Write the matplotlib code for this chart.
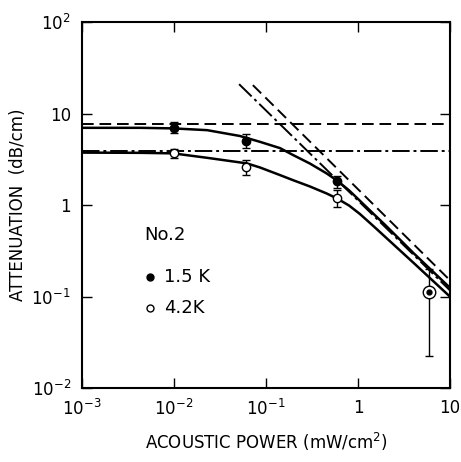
import numpy as np
from matplotlib import pyplot as plt

plt.rcParams['font.family'] = ['DejaVu Sans']
plt.rcParams['mathtext.fontset'] = 'dejavusans'

# measured points, 1.5 K (filled) and 4.2 K (open)
p15 = [0.01, 0.06, 0.59]
a15 = [7.0, 5.0, 1.85]
lo15 = [6.1, 4.2, 1.55]
hi15 = [8.1, 6.0, 2.1]

p42 = [0.01, 0.06, 0.59]
a42 = [3.7, 2.6, 1.2]
lo42 = [3.27, 2.13, 0.95]
hi42 = [4.1, 3.1, 1.45]

# overlapping point at highest power
pc, ac, loc, hic = 5.9, 0.112, 0.0227, 0.2

# fitted curves
cp15 = [0.001, 0.0043, 0.0098, 0.0229, 0.052, 0.086, 0.142, 0.198, 0.3,
        0.457, 0.595, 0.8, 1.0, 1.5, 2.0, 4.0, 10.0]
c15 = [7.0, 7.0, 6.9, 6.6, 5.7, 4.92, 4.2, 3.52, 2.85, 2.22, 1.85, 1.45,
       1.17, 0.79, 0.6, 0.3, 0.125]
cp42 = [0.001, 0.0043, 0.0098, 0.0229, 0.062, 0.086, 0.142, 0.198, 0.3,
        0.457, 0.595, 0.8, 1.05, 1.5, 2.0, 4.0, 10.0]
c42 = [3.75, 3.73, 3.68, 3.29, 2.86, 2.58, 2.13, 1.87, 1.6, 1.34, 1.18,
       0.99, 0.8, 0.58, 0.445, 0.235, 0.1]

# low-power levels and high-power asymptotes
lvl15, lvl42 = 7.7, 3.9
asym_dash_p, asym_dash_a = [0.072, 10.0], [20.5, 0.151]
asym_dd_p, asym_dd_a = [0.051, 10.0], [21.0, 0.117]

fig = plt.figure(figsize=(4.61, 4.62), dpi=100)
ax = fig.add_axes([0.178, 0.160, 0.798, 0.792])
ax.set_xscale('log')
ax.set_yscale('log')
ax.set_xlim(1e-3, 10)
ax.set_ylim(1e-2, 1e2)

ax.plot(cp15, c15, 'k-', lw=1.8, solid_joinstyle='round')
ax.plot(cp42, c42, 'k-', lw=1.8, solid_joinstyle='round')
ax.axhline(lvl15, color='k', ls=(0, (6, 3)), lw=1.4)
ax.axhline(lvl42, color='k', ls=(0, (9, 2, 1.5, 2)), lw=1.4)
ax.plot(asym_dash_p, asym_dash_a, color='k', ls=(0, (6, 3)), lw=1.4)
ax.plot(asym_dd_p, asym_dd_a, color='k', ls=(0, (9, 2, 1.5, 2)), lw=1.4)

e15 = [np.array(a15) - np.array(lo15), np.array(hi15) - np.array(a15)]
e42 = [np.array(a42) - np.array(lo42), np.array(hi42) - np.array(a42)]
ax.errorbar(p15, a15, yerr=e15, fmt='o', color='k', ms=6, capsize=3, elinewidth=1)
ax.errorbar(p42, a42, yerr=e42, fmt='o', color='k', mfc='white', ms=6,
            capsize=3, elinewidth=1, zorder=3)
ax.errorbar([pc], [ac], yerr=[[ac - loc], [hic - ac]], fmt='o', color='k',
            mfc='white', ms=9, capsize=3, elinewidth=1, zorder=4)
ax.plot([pc], [ac], 'ko', ms=3.5, zorder=5)

ax.set_xticks([1e-3, 1e-2, 1e-1, 1, 10])
ax.set_xticklabels(['$10^{-3}$', '$10^{-2}$', '$10^{-1}$', '1', '10'])
ax.set_yticks([1e-2, 1e-1, 1, 10, 1e2])
ax.set_yticklabels(['$10^{-2}$', '$10^{-1}$', '1', '10', '$10^{2}$'])
ax.minorticks_off()
ax.tick_params(direction='in', length=7, width=1, top=True, right=True,
               labelsize=12, pad=8)
for s in ax.spines.values():
    s.set_linewidth(1.5)

ax.set_xlabel('ACOUSTIC POWER (mW/cm$^2$)', fontsize=12, labelpad=8)
ax.set_ylabel('ATTENUATION  (dB/cm)', fontsize=12, labelpad=3)

ax.text(0.0048, 0.47, 'No.2', fontsize=13, va='center')
ax.plot([0.0055], [0.163], 'ko', ms=5)
ax.text(0.0078, 0.163, '1.5 K', fontsize=13, va='center')
ax.plot([0.0055], [0.075], 'ko', mfc='white', ms=5)
ax.text(0.0078, 0.075, '4.2K', fontsize=13, va='center')

fig.savefig('out.png')
